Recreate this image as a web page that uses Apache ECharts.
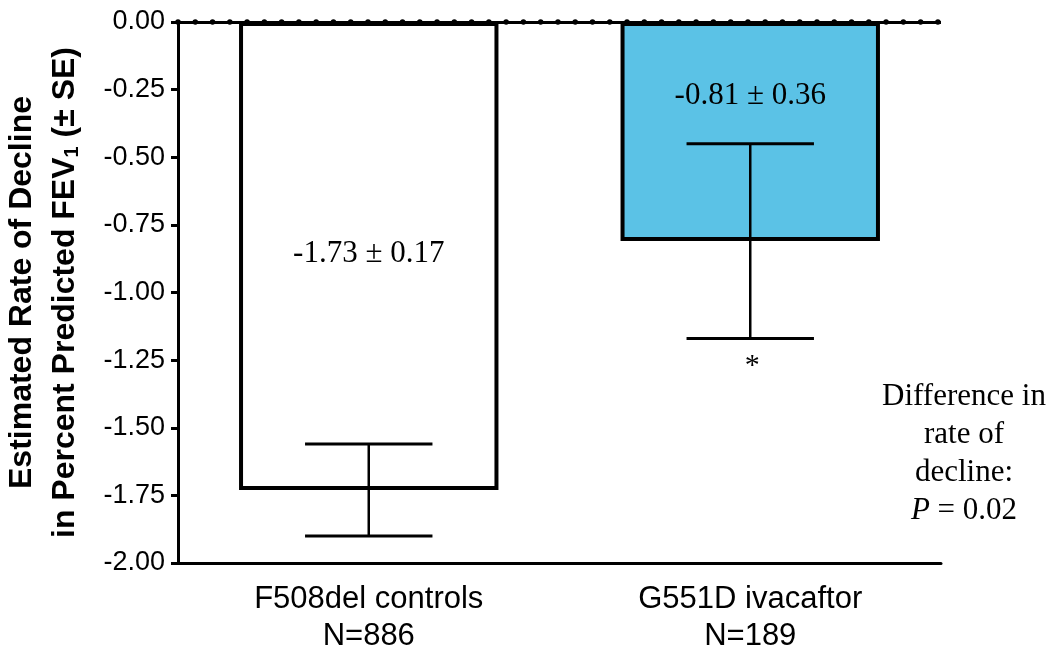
<!DOCTYPE html>
<html>
<head>
<meta charset="utf-8">
<script src="https://cdn.jsdelivr.net/npm/echarts@6/dist/echarts.min.js"></script>
<style>html,body{margin:0;padding:0;background:#fff;}#chart{width:1053px;height:651px;}</style>
</head>
<body>
<div id="chart"></div>
<script>
const groupNames = ['F508del controls', 'G551D ivacaftor'];
const groupN = [886, 189];
const meanRates = [-1.73, -0.81];
const seRates = [0.17, 0.36];
const barColors = ['#ffffff', '#5bc2e6'];
const sigMarks = ['', '*'];
const yMin = -2.0, yMax = 0, yStep = 0.25;

const categories = groupNames.map((g, i) => g + '\nN=' + groupN[i]);
const errData = meanRates.map((m, i) => [i, +(m - seRates[i]).toFixed(2), +(m + seRates[i]).toFixed(2)]);

const chart = echarts.init(document.getElementById('chart'));
const sans = 'Liberation Sans, Arial, sans-serif';
const serif = 'Liberation Serif, Times New Roman, serif';

chart.setOption({
  animation: false,
  backgroundColor: '#fff',
  grid: { left: 178, right: 112, top: 22, bottom: 88, containLabel: false, outerBoundsMode: 'none' },
  xAxis: {
    type: 'category',
    data: categories,
    axisLine: { onZero: false, lineStyle: { color: '#000', width: 3 } },
    axisTick: { alignWithLabel: true, length: 7, lineStyle: { color: '#000', width: 3 } },
    axisLabel: { color: '#000', fontFamily: sans, fontSize: 31, lineHeight: 37, margin: 18 },
    splitLine: { show: false }
  },
  yAxis: {
    type: 'value',
    min: yMin, max: yMax, interval: yStep,
    axisLine: { show: true, lineStyle: { color: '#000', width: 3 } },
    axisTick: { show: true, length: 7, lineStyle: { color: '#000', width: 3 } },
    axisLabel: { color: '#000', fontFamily: sans, fontSize: 27, margin: 13, formatter: v => v.toFixed(2) },
    splitLine: { show: false },
    name: '{a|Estimated Rate of Decline}\n{a|in Percent Predicted FEV}{s|1}{a| (± SE)}',
    nameLocation: 'middle',
    nameRotate: 90,
    nameGap: 91,
    nameTextStyle: {
      rich: {
        a: { fontFamily: sans, fontSize: 32, fontWeight: 'bold', color: '#000', lineHeight: 43 },
        s: { fontFamily: sans, fontSize: 20, fontWeight: 'bold', color: '#000', lineHeight: 43, padding: [14, 0, 0, 0] }
      }
    }
  },
  series: [
    {
      type: 'bar',
      barWidth: '68%',
      data: meanRates.map((v, i) => ({
        value: v,
        itemStyle: { color: barColors[i], borderColor: '#000', borderWidth: 4 },
        label: {
          show: true,
          position: 'inside',
          offset: i === 1 ? [0, -36] : [0, -2],
          formatter: () => v.toFixed(2) + ' ± ' + seRates[i].toFixed(2),
          fontFamily: serif, fontSize: 31, color: '#000'
        }
      })),
      markLine: {
        silent: true,
        symbol: 'none',
        label: { show: false },
        animation: false,
        data: [
          { yAxis: 0, lineStyle: { color: '#000', width: 3, type: 'solid' } },
          { yAxis: 0, lineStyle: { color: '#000', width: 5.5, type: [0, 17.27], cap: 'round' } }
        ]
      }
    },
    {
      type: 'custom',
      z: 5,
      encode: { x: 0, y: [1, 2] },
      data: errData,
      renderItem: function (params, api) {
        const idx = api.value(0);
        const lo = api.coord([idx, api.value(1)]);
        const hi = api.coord([idx, api.value(2)]);
        const half = api.size([1, 0])[0] * 0.167;
        const children = [
          { type: 'line', shape: { x1: lo[0], y1: lo[1], x2: hi[0], y2: hi[1] }, style: { stroke: '#000', lineWidth: 2.5 } },
          { type: 'line', shape: { x1: lo[0] - half, y1: lo[1], x2: lo[0] + half, y2: lo[1] }, style: { stroke: '#000', lineWidth: 3 } },
          { type: 'line', shape: { x1: hi[0] - half, y1: hi[1], x2: hi[0] + half, y2: hi[1] }, style: { stroke: '#000', lineWidth: 3 } }
        ];
        if (sigMarks[idx]) {
          children.push({ type: 'text', style: { text: sigMarks[idx], x: lo[0] + 2, y: lo[1] + 28, align: 'center', verticalAlign: 'middle', font: '30px ' + serif, fill: '#000' } });
        }
        return { type: 'group', children: children };
      }
    }
  ],
  graphic: [
    {
      type: 'text',
      x: 964, y: 454,
      style: {
        text: 'Difference in\nrate of\ndecline:\n{i|P} = 0.02',
        align: 'center', verticalAlign: 'middle',
        font: '31px ' + serif, fill: '#000', lineHeight: 38,
        rich: { i: { fontStyle: 'italic', fontFamily: serif, fontSize: 31, lineHeight: 38, fill: '#000' } }
      }
    }
  ]
});
</script>
</body>
</html>
